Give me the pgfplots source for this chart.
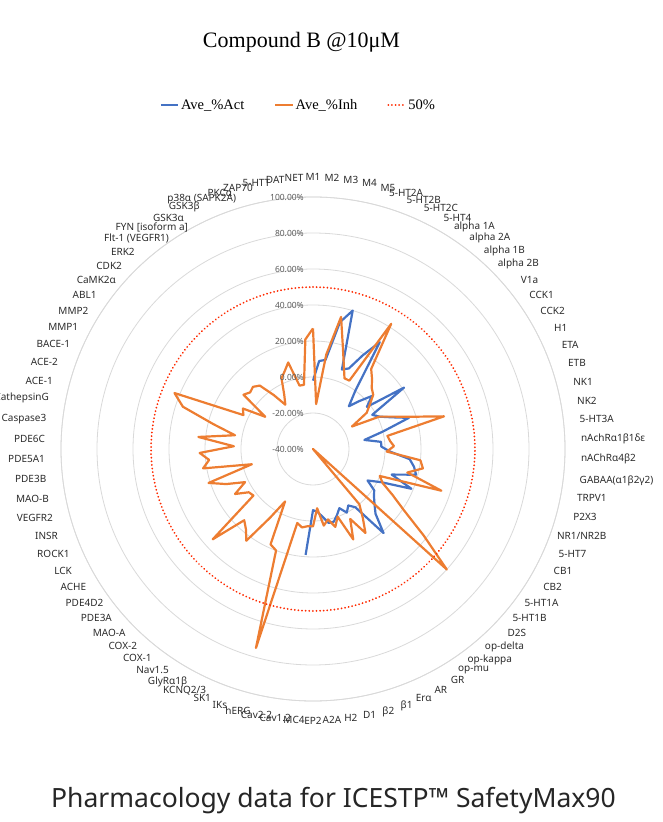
\documentclass[border=0pt]{standalone}
\usepackage{fontspec}
\setmainfont{Noto Sans}
\newfontfamily\serif{Liberation Serif}
\usepackage{pgfplots}
\pgfplotsset{compat=1.18}
\usepackage{pgfplotstable}
\usepgfplotslibrary{polar}
\definecolor{actblue}{HTML}{4472C4}
\definecolor{inhorange}{HTML}{ED7D31}
\definecolor{halfred}{HTML}{FF2A00}
\definecolor{gridgray}{HTML}{D9D9D9}
\definecolor{labelgray}{HTML}{2B2B2B}
\definecolor{ticklab}{HTML}{595959}

\pgfplotstableread{
k inh half
0 27 50
1 -15 50
2 13 50
3 35 50
4 20 50
5 10 50
6 3 50
7 3 50
8 42 50
9 15 50
10 11 50
11 7 50
12 5 50
13 0 50
14 -4 50
15 -15 50
16 1 50
17 8 50
18 18 50
19 35 50
20 2 50
21 3 50
22 5 50
23 1 50
24 20 50
25 22 50
26 14 50
27 35 50
28 0 50
29 3 50
30 11 50
31 21 50
32 38 50
33 60 50
34 -40 50
35 0 50
36 7 50
37 15 50
38 4 50
39 15 50
40 0 50
41 5 50
42 0 50
43 3 50
44 -7 50
45 3 50
46 3 50
47 4 50
48 2 50
49 75 50
50 20 50
51 18 50
52 -7 50
53 5 50
54 23 50
55 18 50
56 15 50
57 35 50
58 2 50
59 3 50
60 10 50
61 2 50
62 12 50
63 21 50
64 -5 50
65 22 50
66 18 50
67 23 50
68 4 50
69 24 50
70 4 50
71 17 50
72 36 50
73 43 50
74 3 50
75 5 50
76 -8 50
77 9 50
78 7 50
79 8 50
80 6 50
81 -3 50
82 -11 50
83 -6 50
84 3 50
85 6 50
86 10 50
87 -4 50
88 -4 50
89 21 50
90 27 50
}\inhdata

\pgfplotstableread{
k act
0 -2
1 9
2 10
3 32
4 40
5 7
6 9
7 19
8 30
9 0
10 -9
11 -3
12 4
13 -2
14 21
15 -2
16 1
17 7
18 16
19 0
20 -11
21 -2
22 -2
23 3
24 14
25 17
26 19
27 6
28 19
29 2
30 -5
31 1
32 3
33 6
34 10
35 21
36 0
37 -3
38 0
39 -4
40 -1
41 2
42 2
43 -2
44 -5
45 -6
46 19
}\actdata

\begin{document}
\begin{tikzpicture}[x=1pt,y=1pt]
\path[use as bounding box] (0,0) rectangle (662,822);
\begin{polaraxis}[
  at={(313pt,373pt)}, anchor=center,
  width=504pt, height=504pt, scale only axis,
  xmin=-270, xmax=90,
  ymin=0, ymax=140,
  xtick=\empty,
  ytick={20,40,...,140},
  yticklabels=\empty,
  major tick length=0pt,
  ymajorgrids=true, xmajorgrids=false,
  grid style={gridgray, line width=0.8pt},
  axis line style={gridgray, line width=0.8pt},
  y axis line style={draw=none},
  clip=false,
  legend columns=3,
  legend style={at={(axis description cs:0.471,1.1825)}, anchor=center,
    draw=none, fill=none, font=\serif\fontsize{14.5}{17}\selectfont,
    /tikz/every even column/.append style={column sep=28pt}},
]
\addplot[actblue, line width=2.2pt, line join=round, no marks]
  table[x expr={90-4*\thisrow{k}}, y expr={\thisrow{act}+40}] {\actdata};
\addlegendentry{Ave\_\%Act}
\addplot[inhorange, line width=2.2pt, line join=round, no marks]
  table[x expr={90-4*\thisrow{k}}, y expr={\thisrow{inh}+40}] {\inhdata};
\addlegendentry{Ave\_\%Inh}
\addplot[halfred, line width=2pt, line cap=round, dash pattern=on 0.01pt off 3.6pt, no marks]
  table[x expr={90-4*\thisrow{k}}, y expr={\thisrow{half}+40}] {\inhdata};
\addlegendentry{50\%}
\end{polaraxis}

% radial tick labels
\begin{scope}[every node/.style={anchor=east, inner sep=0pt, font=\fontsize{8.5}{10}\selectfont, text=ticklab}]
\node at (304,373) {-40.00\%};
\node at (304,409) {-20.00\%};
\node at (304,445) {0.00\%};
\node at (304,481) {20.00\%};
\node at (304,517) {40.00\%};
\node at (304,553) {60.00\%};
\node at (304,589) {80.00\%};
\node at (304,625) {100.00\%};
\end{scope}

% category labels
\foreach \name [count=\i from 0] in {M1,M2,M3,M4,M5,5-HT2A,5-HT2B,5-HT2C,5-HT4,alpha 1A,alpha 2A,alpha 1B,alpha 2B,V1a,CCK1,CCK2,H1,ETA,ETB,NK1,NK2,5-HT3A,nAchRα1β1δε,nAChRα4β2,GABAA(α1β2γ2),TRPV1,P2X3,{NR1/NR2B},5-HT7,CB1,CB2,5-HT1A,5-HT1B,D2S,op-delta,op-kappa,op-mu,GR,AR,Erα,β1,β2,D1,H2,A2A,EP2,MC4,Cav1.2,Cav2.2,hERG,IKs,SK1,{KCNQ2/3},GlyRα1β,Nav1.5,COX-1,COX-2,MAO-A,PDE3A,PDE4D2,ACHE,LCK,ROCK1,INSR,VEGFR2,MAO-B,PDE3B,PDE5A1,PDE6C,Caspase3,CathepsinG,ACE-1,ACE-2,BACE-1,MMP1,MMP2,ABL1,CaMK2α,CDK2,ERK2,{Flt-1 (VEGFR1)},{FYN [isoform a]},GSK3α,GSK3β,{p38α (SAPK2A)},PKCα,ZAP70,5-HTT,DAT,NET} {
  \pgfmathtruncatemacro\ang{90-4*\i}
  \pgfmathtruncatemacro\anc{mod(630-4*\i,360)}
  \node[anchor=\anc, inner sep=1pt, font=\fontsize{10}{12}\selectfont, text=labelgray]
    at ([shift={(313pt,373pt)}]\ang:267pt) {\name};
}

% title
\node[anchor=base, font=\serif\fontsize{22}{25}\selectfont] at (301.5,774) {Compound B @10μM};
% footer
\node[anchor=base, font=\fontsize{26.5}{30}\selectfont, text=black!85] at (333.5,14) {Pharmacology data for ICESTP™ SafetyMax90};
\end{tikzpicture}
\end{document}
